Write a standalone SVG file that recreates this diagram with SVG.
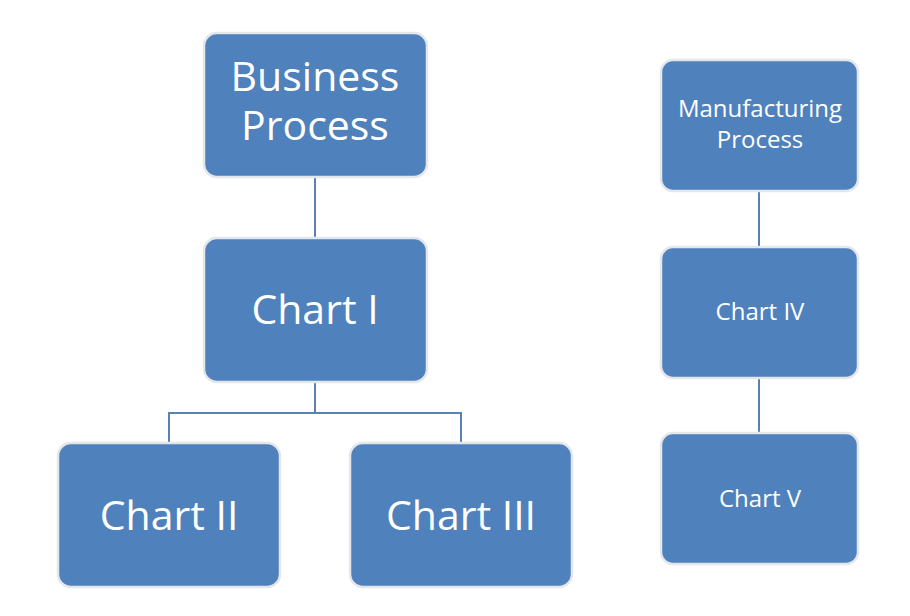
<svg xmlns="http://www.w3.org/2000/svg" width="910" height="616" viewBox="0 0 910 616">
<style>
.box{fill:#4F81BD;stroke:#e3e6ea;stroke-width:2.5}
.big{font-family:"Open Sans","Liberation Sans",sans-serif;font-size:41px;fill:#fff;text-anchor:middle}
.small{font-family:"Open Sans","Liberation Sans",sans-serif;font-size:24px;fill:#fff;text-anchor:middle}
.conn{fill:none;stroke:#5b80b6;stroke-width:2}
</style>
<rect width="910" height="616" fill="#fff"/>
<g id="connectors">
<path class="conn" d="M315,177V238"/>
<path class="conn" d="M315,382V413M169,443V413H461V443"/>
<path class="conn" d="M759,191V247M759,378V433"/>
</g>
<g id="business-process">
<rect class="box" x="204" y="33" width="223" height="144" rx="13"/>
<text class="big" x="315" y="91"><tspan x="315">Business</tspan><tspan x="315" dy="49">Process</tspan></text>
</g>
<g id="chart-1">
<rect class="box" x="204" y="238" width="223" height="144" rx="13"/>
<text class="big" x="315" y="324">Chart I</text>
</g>
<g id="chart-2">
<rect class="box" x="58" y="443" width="222" height="144" rx="13"/>
<text class="big" x="169" y="530">Chart II</text>
</g>
<g id="chart-3">
<rect class="box" x="350" y="443" width="222" height="144" rx="13"/>
<text class="big" x="461" y="530">Chart III</text>
</g>
<g id="manufacturing-process">
<rect class="box" x="661" y="60" width="197" height="131" rx="12"/>
<text class="small" x="760" y="117"><tspan x="760">Manufacturing</tspan><tspan x="760" dy="31">Process</tspan></text>
</g>
<g id="chart-4">
<rect class="box" x="661" y="247" width="197" height="131" rx="12"/>
<text class="small" x="760" y="320">Chart IV</text>
</g>
<g id="chart-5">
<rect class="box" x="661" y="433" width="197" height="131" rx="12"/>
<text class="small" x="760" y="507">Chart V</text>
</g>
</svg>
